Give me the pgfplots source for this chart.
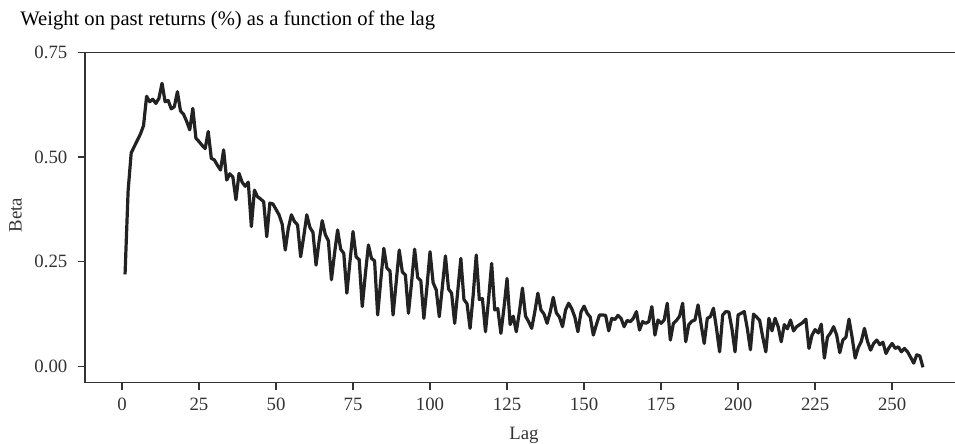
\documentclass[border=0pt]{standalone}
\usepackage{fontspec}
\setmainfont{Liberation Serif}
\usepackage{pgfplots}
\usepackage{pgfplotstable}
\pgfplotsset{compat=1.18}
\usetikzlibrary{calc}
\definecolor{LineDark}{HTML}{222222}
\definecolor{SpineDark}{HTML}{333333}

\pgfplotstableread{
lag beta
1 0.220
2 0.420
3 0.510
4 0.525
5 0.540
6 0.555
7 0.575
8 0.645
9 0.632
10 0.638
11 0.628
12 0.640
13 0.676
14 0.632
15 0.635
16 0.615
17 0.620
18 0.656
19 0.610
20 0.602
21 0.585
22 0.565
23 0.616
24 0.545
25 0.537
26 0.528
27 0.520
28 0.561
29 0.497
30 0.493
31 0.480
32 0.469
33 0.517
34 0.445
35 0.460
36 0.452
37 0.398
38 0.461
39 0.440
40 0.430
41 0.440
42 0.334
43 0.421
44 0.405
45 0.400
46 0.393
47 0.310
48 0.390
49 0.388
50 0.375
51 0.362
52 0.340
53 0.278
54 0.330
55 0.362
56 0.346
57 0.338
58 0.262
59 0.310
60 0.362
61 0.332
62 0.320
63 0.242
64 0.300
65 0.348
66 0.315
67 0.300
68 0.207
69 0.270
70 0.326
71 0.280
72 0.270
73 0.175
74 0.250
75 0.322
76 0.262
77 0.255
78 0.143
79 0.220
80 0.290
81 0.258
82 0.252
83 0.123
84 0.205
85 0.282
86 0.235
87 0.228
88 0.123
89 0.200
90 0.278
91 0.226
92 0.218
93 0.127
94 0.200
95 0.280
96 0.212
97 0.205
98 0.115
99 0.190
100 0.274
101 0.200
102 0.183
103 0.119
104 0.190
105 0.264
106 0.185
107 0.175
108 0.103
109 0.180
110 0.258
111 0.160
112 0.150
113 0.091
114 0.170
115 0.266
116 0.160
117 0.162
118 0.083
119 0.160
120 0.246
121 0.135
122 0.138
123 0.079
124 0.140
125 0.210
126 0.100
127 0.120
128 0.083
129 0.130
130 0.187
131 0.120
132 0.107
133 0.091
134 0.130
135 0.175
136 0.135
137 0.125
138 0.103
139 0.130
140 0.165
141 0.128
142 0.118
143 0.095
144 0.135
145 0.151
146 0.138
147 0.118
148 0.083
149 0.130
150 0.144
151 0.127
152 0.118
153 0.075
154 0.100
155 0.123
156 0.123
157 0.122
158 0.085
159 0.115
160 0.112
161 0.122
162 0.115
163 0.095
164 0.110
165 0.107
166 0.115
167 0.131
168 0.087
169 0.107
170 0.103
171 0.107
172 0.143
173 0.075
174 0.111
175 0.103
176 0.111
177 0.151
178 0.063
179 0.103
180 0.110
181 0.120
182 0.151
183 0.059
184 0.100
185 0.108
186 0.111
187 0.147
188 0.100
189 0.055
190 0.115
191 0.119
192 0.139
193 0.090
194 0.035
195 0.123
196 0.131
197 0.130
198 0.090
199 0.035
200 0.123
201 0.127
202 0.131
203 0.090
204 0.040
205 0.125
206 0.118
207 0.110
208 0.070
209 0.035
210 0.115
211 0.085
212 0.115
213 0.095
214 0.059
215 0.100
216 0.090
217 0.111
218 0.085
219 0.095
220 0.100
221 0.105
222 0.113
223 0.043
224 0.075
225 0.088
226 0.080
227 0.101
228 0.020
229 0.070
230 0.080
231 0.095
232 0.075
233 0.033
234 0.063
235 0.070
236 0.113
237 0.070
238 0.020
239 0.045
240 0.060
241 0.091
242 0.060
243 0.039
244 0.055
245 0.063
246 0.052
247 0.058
248 0.031
249 0.045
250 0.055
251 0.043
252 0.047
253 0.035
254 0.043
255 0.035
256 0.022
257 0.008
258 0.028
259 0.025
260 -0.002
}\betatable

\begin{document}
\begin{tikzpicture}
\begin{axis}[
    scale only axis,
    width=439pt, height=165.2pt,
    xmin=-12, xmax=273, ymin=-0.0387, ymax=0.75,
    xtick={0,25,...,250},
    ytick={0,0.25,0.5,0.75},
    xtick pos=left, ytick pos=left,
    tick align=outside,
    major tick length=3.5pt,
    axis line style={SpineDark, line width=0.65pt},
    every tick/.style={SpineDark, line width=0.65pt},
    /pgf/number format/assume math mode=true,
    y tick label style={/pgf/number format/fixed, /pgf/number format/fixed zerofill, /pgf/number format/precision=2, xshift=-1.8pt},
    x tick label style={yshift=-0.8pt},
    tick label style={font=\fontsize{9.4}{11}\selectfont, text=SpineDark},
    clip=false,
]
\addplot[LineDark, line width=1.6pt, line join=round] table[x=lag, y=beta] {\betatable};
\coordinate (bl) at (rel axis cs:0,0);
\coordinate (tl) at (rel axis cs:0,1);
\end{axis}
\node[anchor=base west, font=\fontsize{10.3}{12}\selectfont] at ($(tl)+(-35.85pt,13.15pt)$) {Weight on past returns (\%) as a function of the lag};
\node[anchor=base, font=\fontsize{9.4}{11}\selectfont, text=SpineDark] at ($(bl)+(219.5pt,-28.2pt)$) {Lag};
\node[anchor=base, rotate=90, font=\fontsize{9.4}{11}\selectfont, text=SpineDark] at ($(bl)+(-31.65pt,83.85pt)$) {Beta};
\pgfresetboundingbox
\useasboundingbox ($(bl)+(-42.5pt,-30.65pt)$) rectangle ($(bl)+(435pt,191.35pt)$);
\end{tikzpicture}
\end{document}
